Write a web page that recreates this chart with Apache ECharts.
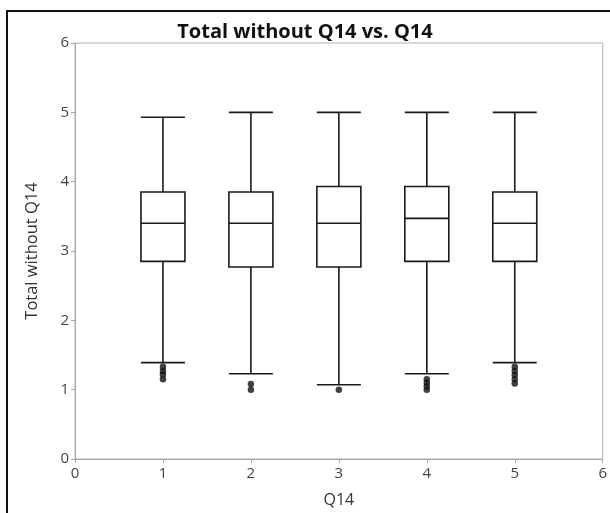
<!DOCTYPE html>
<html>
<head>
<meta charset="utf-8">
<script src="https://cdn.jsdelivr.net/npm/echarts@6/dist/echarts.min.js"></script>
<style>
html,body{margin:0;padding:0;background:#fff;}
#chart{width:610px;height:513px;}
</style>
</head>
<body>
<div id="chart"></div>
<script>
// Q14 groups and box statistics: [min, Q1, median, Q3, max]
const groups = [1, 2, 3, 4, 5];
const lowWhisker = [1.39, 1.23, 1.07, 1.23, 1.39];
const q1 = [2.85, 2.77, 2.77, 2.85, 2.85];
const median = [3.40, 3.40, 3.40, 3.47, 3.40];
const q3 = [3.85, 3.85, 3.93, 3.93, 3.85];
const highWhisker = [4.93, 5.00, 5.00, 5.00, 5.00];
// outliers per group
const outliers1 = [1.33, 1.27, 1.22, 1.15];
const outliers2 = [1.08, 1.00];
const outliers3 = [1.00];
const outliers4 = [1.15, 1.10, 1.05, 1.00];
const outliers5 = [1.33, 1.27, 1.21, 1.15, 1.09];
const xTicks = [0, 1, 2, 3, 4, 5, 6];
const yTicks = [0, 1, 2, 3, 4, 5, 6];

const outlierLists = [outliers1, outliers2, outliers3, outliers4, outliers5];
const boxData = groups.map((g, i) => [g, lowWhisker[i], q1[i], median[i], q3[i], highWhisker[i]]);
const outlierData = [];
outlierLists.forEach((list, i) => list.forEach(v => outlierData.push([groups[i], v])));

const chart = echarts.init(document.getElementById('chart'), null, {renderer: 'canvas'});
const font = '"Open Sans", "Noto Sans", sans-serif';
chart.setOption({
  backgroundColor: '#fff',
  animation: false,
  title: {
    text: 'Total without Q14 vs. Q14',
    left: 'center',
    top: 17,
    textStyle: {fontFamily: font, fontSize: 20, fontWeight: 'bold', color: '#111'}
  },
  graphic: [{
    type: 'rect',
    shape: {x: 7, y: 11, width: 800, height: 800},
    style: {fill: null, stroke: '#111', lineWidth: 2},
    silent: true
  }],
  grid: {left: 75, right: 7, top: 43, bottom: 51, show: true, borderColor: '#b0b0b0', borderWidth: 1, backgroundColor: 'transparent'},
  xAxis: {
    type: 'value',
    min: xTicks[0], max: xTicks[xTicks.length - 1], interval: 1,
    name: 'Q14', nameLocation: 'middle', nameGap: 33,
    nameTextStyle: {fontFamily: font, fontSize: 16, color: '#333'},
    axisLine: {show: true, onZero: false, lineStyle: {color: '#a8a8a8'}},
    axisTick: {show: true, length: 4, lineStyle: {color: '#a8a8a8'}},
    axisLabel: {fontFamily: font, fontSize: 15, color: '#444', margin: 7},
    splitLine: {show: false}
  },
  yAxis: {
    type: 'value',
    min: yTicks[0], max: yTicks[yTicks.length - 1], interval: 1,
    name: 'Total without Q14', nameLocation: 'middle', nameGap: 34,
    nameTextStyle: {fontFamily: font, fontSize: 16.5, color: '#333'},
    axisLine: {show: true, lineStyle: {color: '#a8a8a8'}},
    axisTick: {show: true, length: 4, lineStyle: {color: '#a8a8a8'}},
    axisLabel: {fontFamily: font, fontSize: 15, color: '#444', margin: 6},
    splitLine: {show: false}
  },
  series: [{
    type: 'boxplot',
    data: boxData,
    boxWidth: [44, 44],
    itemStyle: {color: 'transparent', borderColor: '#1a1a1a', borderWidth: 1.6},
    emphasis: {disabled: true}
  }, {
    type: 'scatter',
    data: outlierData,
    symbol: 'circle',
    symbolSize: 6.5,
    itemStyle: {color: '#111'}
  }]
});
</script>
</body>
</html>
